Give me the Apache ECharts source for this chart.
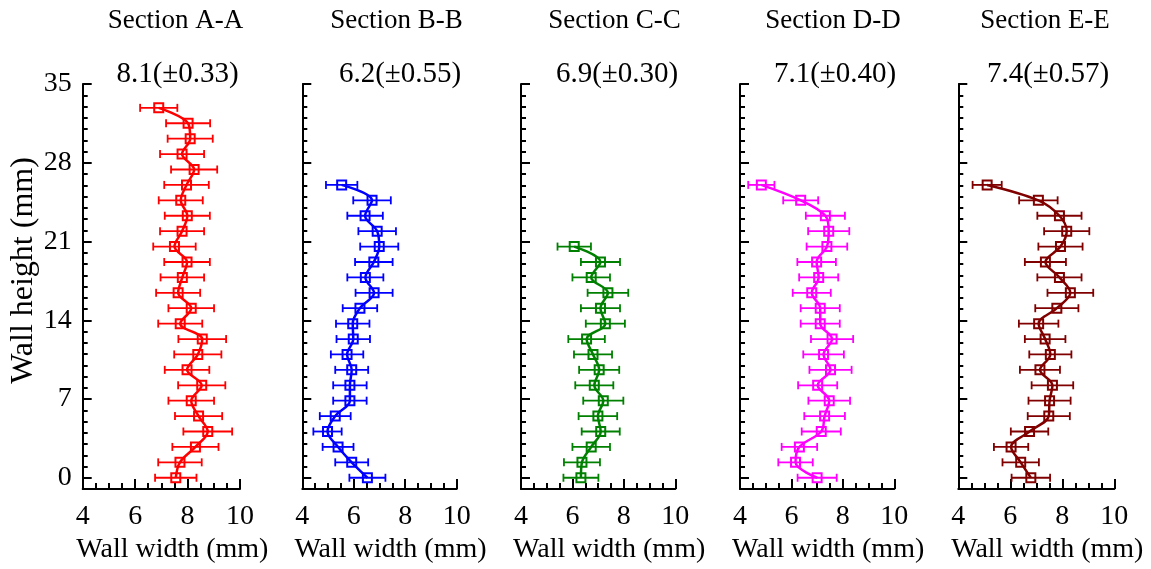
<!DOCTYPE html>
<html>
<head>
<meta charset="utf-8">
<script src="https://cdn.jsdelivr.net/npm/echarts@6/dist/echarts.min.js"></script>
<style>
  html, body { margin: 0; padding: 0; background: #fff; }
  #chart { width: 1151px; height: 569px; }
</style>
</head>
<body>
<div id="chart"></div>
<script>
// Wall-width profiles along the build height for five cross sections
const sectionNames = ['Section A-A', 'Section B-B', 'Section C-C', 'Section D-D', 'Section E-E'];
const meanLabels = ['8.1(\u00b10.33)', '6.2(\u00b10.55)', '6.9(\u00b10.30)', '7.1(\u00b10.40)', '7.4(\u00b10.57)'];
const colors = ['#ff0000', '#0000ff', '#008000', '#ff00ff', '#800000'];

// measurement heights (mm), bottom to top
const heights = [0, 1.37, 2.74, 4.11, 5.48, 6.85, 8.22, 9.59, 10.96, 12.33, 13.70, 15.07,
  16.44, 17.81, 19.18, 20.55, 21.92, 23.29, 24.66, 26.03, 27.40, 28.77, 30.14, 31.51, 32.88];

// wall width (mm) and its deviation, listed bottom to top
const widthA = [7.55, 7.71, 8.30, 8.77, 8.42, 8.14, 8.54, 7.98, 8.39, 8.56, 7.72, 8.14, 7.64,
  7.80, 7.98, 7.50, 7.79, 7.99, 7.74, 7.96, 8.25, 7.79, 8.10, 8.02, 6.90];
const errA = [0.79, 0.83, 0.88, 0.93, 0.90, 0.87, 0.90, 0.85, 0.90, 0.91, 0.84, 0.87, 0.84,
  0.83, 0.87, 0.81, 0.84, 0.86, 0.84, 0.85, 0.88, 0.84, 0.86, 0.84, 0.71];

const widthB = [6.53, 5.92, 5.39, 4.98, 5.28, 5.85, 5.85, 5.92, 5.74, 5.98, 5.96, 6.24, 6.79,
  6.45, 6.78, 6.99, 6.91, 6.44, 6.71, 5.53];
const errB = [0.70, 0.64, 0.60, 0.55, 0.60, 0.65, 0.65, 0.64, 0.63, 0.65, 0.65, 0.67, 0.72,
  0.70, 0.73, 0.74, 0.73, 0.69, 0.73, 0.61];

const widthC = [6.33, 6.37, 6.73, 7.10, 6.99, 7.20, 6.85, 7.04, 6.80, 6.55, 7.28, 7.09, 7.38,
  6.73, 7.09, 6.07];
const errC = [0.68, 0.70, 0.73, 0.74, 0.75, 0.78, 0.74, 0.78, 0.74, 0.71, 0.76, 0.76, 0.79,
  0.73, 0.76, 0.65];

const widthD = [7.00, 6.16, 6.31, 7.16, 7.29, 7.47, 7.02, 7.52, 7.25, 7.58, 7.12, 7.12, 6.79,
  7.06, 6.98, 7.38, 7.45, 7.32, 6.36, 4.83];
const errD = [0.76, 0.67, 0.69, 0.76, 0.79, 0.81, 0.76, 0.82, 0.79, 0.82, 0.76, 0.76, 0.74,
  0.76, 0.75, 0.79, 0.80, 0.76, 0.68, 0.51];

const widthE = [6.79, 6.40, 6.03, 6.74, 7.48, 7.51, 7.62, 7.14, 7.54, 7.34, 7.09, 7.79, 8.31,
  7.89, 7.35, 7.93, 8.17, 7.89, 7.08, 5.11];
const errE = [0.74, 0.70, 0.66, 0.72, 0.81, 0.81, 0.80, 0.77, 0.81, 0.78, 0.76, 0.83, 0.88,
  0.85, 0.79, 0.85, 0.87, 0.85, 0.74, 0.56];

const yMajorTicks = [0, 7, 14, 21, 28, 35];

const widths = [widthA, widthB, widthC, widthD, widthE];
const errors = [errA, errB, errC, errD, errE];

// panel layout
const FONT = '"Liberation Serif", "Times New Roman", serif';
const gridLeft = [82.7, 302.3, 521, 740, 958.3];
const gridWidth = [157.3, 154.4, 154.3, 154.3, 156];
const titleX = [175.5, 396.5, 614.5, 833, 1045];
const meanX = [177.5, 400, 617, 835, 1048];

const grids = [], xAxes = [], yAxes = [], series = [], titles = [];

for (let k = 0; k < 5; k++) {
  const col = colors[k];
  grids.push({ left: gridLeft[k], top: 84, width: gridWidth[k], height: 406 });

  xAxes.push({
    gridIndex: k, type: 'value', min: 4, max: 10, interval: 2,
    axisLine: { onZero: false, lineStyle: { color: '#000', width: 2 } },
    axisTick: { inside: true, length: 10, lineStyle: { color: '#000', width: 2 } },
    minorTick: { show: true, splitNumber: 4, length: 6, lineStyle: { color: '#000', width: 2 } },
    splitLine: { show: false },
    minorSplitLine: { show: false },
    axisLabel: { color: '#000', fontFamily: FONT, fontSize: 28, margin: 14 },
    name: 'Wall width (mm)', nameLocation: 'middle', nameGap: 47,
    nameTextStyle: { color: '#000', fontFamily: FONT, fontSize: 28, padding: [0, 0, 0, 22] }
  });

  // minor ticks every 1 mm, plus axis line
  yAxes.push({
    gridIndex: k, type: 'value', min: -1, max: 35, interval: 1, position: 'left',
    axisLine: { show: true, onZero: false, lineStyle: { color: '#000', width: 2 } },
    axisTick: { inside: true, length: 5, lineStyle: { color: '#000', width: 2 } },
    splitLine: { show: false },
    axisLabel: {
      show: k === 0, color: '#000', fontFamily: FONT, fontSize: 28, margin: 11,
      formatter: v => (v >= 0 && v % 7 === 0) ? String(v) : ''
    },
    name: k === 0 ? 'Wall height (mm)' : '', nameLocation: 'middle', nameGap: 42, nameRotate: 90,
    nameTextStyle: { color: '#000', fontFamily: FONT, fontSize: 32, padding: [0, 0, 0, 32] }
  });
  // longer ticks at the labelled heights
  yAxes.push({
    gridIndex: k, type: 'value', min: -1, max: 35, position: 'left', offset: 0,
    axisLine: { show: false, onZero: false },
    axisTick: { show: true, inside: true, length: 9, customValues: yMajorTicks,
      lineStyle: { color: '#000', width: 2 } },
    axisLabel: { show: false },
    splitLine: { show: false }
  });

  const w = widths[k], e = errors[k];
  const pts = w.map((v, i) => [v, heights[i]]);
  const bars = w.map((v, i) => [v, heights[i], e[i]]);

  series.push({
    type: 'custom', xAxisIndex: k, yAxisIndex: 2 * k, z: 2,
    encode: { x: 0, y: 1 },
    data: bars,
    renderItem: (params, api) => {
      const x = api.value(0), y = api.value(1), d = api.value(2);
      const a = api.coord([x - d, y]);
      const b = api.coord([x + d, y]);
      const cap = 4;
      const st = { stroke: col, lineWidth: 1.8 };
      return {
        type: 'group',
        children: [
          { type: 'line', shape: { x1: a[0], y1: a[1], x2: b[0], y2: b[1] }, style: st },
          { type: 'line', shape: { x1: a[0], y1: a[1] - cap, x2: a[0], y2: a[1] + cap }, style: st },
          { type: 'line', shape: { x1: b[0], y1: b[1] - cap, x2: b[0], y2: b[1] + cap }, style: st }
        ]
      };
    }
  });

  series.push({
    type: 'line', xAxisIndex: k, yAxisIndex: 2 * k, z: 3,
    data: pts,
    smooth: 0.35,
    symbol: 'rect', symbolSize: 9,
    lineStyle: { color: col, width: 2.5 },
    itemStyle: { color: 'rgba(255,255,255,0)', borderColor: col, borderWidth: 2 }
  });

  titles.push({
    text: sectionNames[k], left: titleX[k], top: 7, textAlign: 'center', padding: 0,
    textStyle: { color: '#000', fontFamily: FONT, fontSize: 27, fontWeight: 'normal' }
  });
  titles.push({
    text: meanLabels[k], left: meanX[k], top: 60, textAlign: 'center', padding: 0,
    textStyle: { color: '#000', fontFamily: FONT, fontSize: 29, fontWeight: 'normal' }
  });
}

const chart = echarts.init(document.getElementById('chart'), null, { renderer: 'canvas' });
chart.setOption({
  animation: false,
  backgroundColor: '#fff',
  title: titles,
  grid: grids,
  xAxis: xAxes,
  yAxis: yAxes,
  series: series
});
</script>
</body>
</html>
